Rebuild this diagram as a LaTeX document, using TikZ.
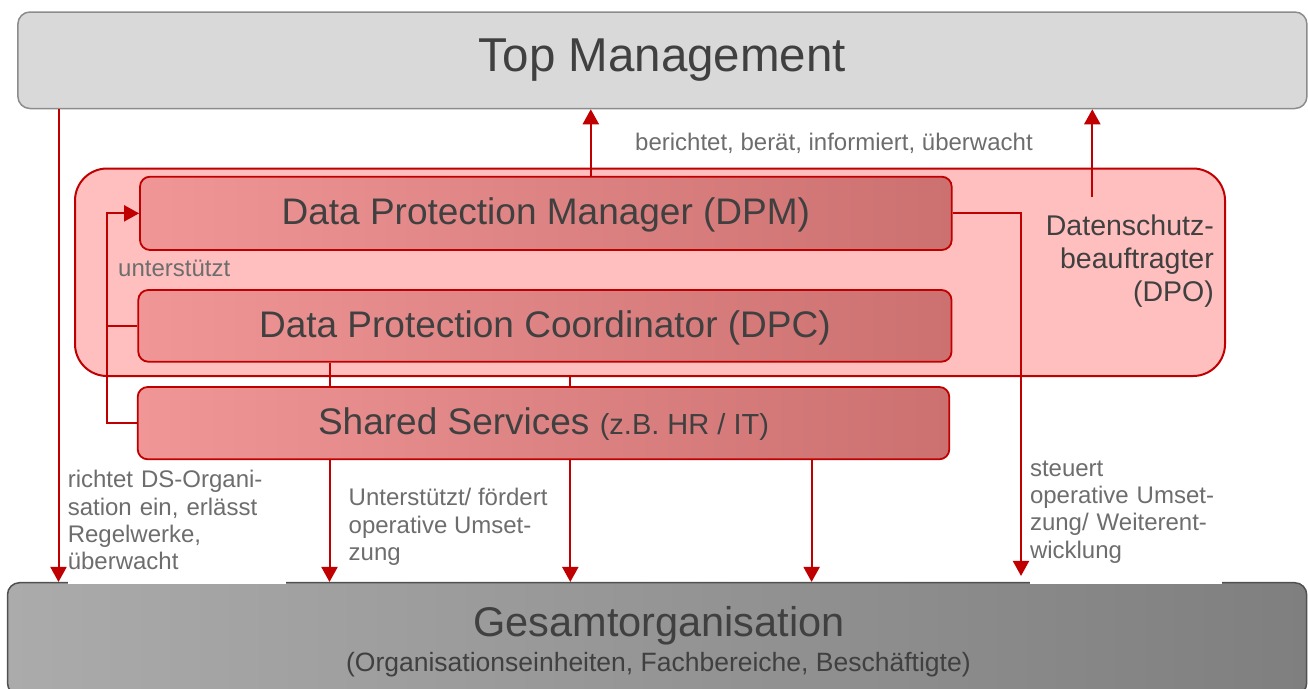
\documentclass[tikz,border=0pt]{standalone}
\usepackage{fontspec}
\setmainfont{Liberation Sans}
\usetikzlibrary{arrows.meta,calc}
\definecolor{dsred}{HTML}{C00000}
\definecolor{dpofill}{HTML}{FFBFBF}
\definecolor{boxL}{HTML}{F09696}
\definecolor{boxR}{HTML}{CC7070}
\definecolor{txt}{HTML}{404040}
\definecolor{lbl}{HTML}{6D6D6D}
\definecolor{topfill}{HTML}{D9D9D9}
\definecolor{topdraw}{HTML}{8C8C8C}
\definecolor{gesL}{HTML}{ABABAB}
\definecolor{gesR}{HTML}{7F7F7F}
\definecolor{gesdraw}{HTML}{505050}
\begin{document}
\begin{tikzpicture}[x=1pt,y=-1pt,
  conn/.style={draw=dsred, line width=2pt},
  arr/.style={conn, -{Triangle[length=15pt,width=16pt]}},
  redbox/.style={draw=dsred, line width=1.8pt, rounded corners=10pt, left color=boxL, right color=boxR,
     text=txt, font=\fontsize{37}{37}\selectfont, text height=23pt, text depth=0pt, inner sep=0pt},
  lbltext/.style={text=lbl, font=\fontsize{24}{27.3}\selectfont, inner sep=0pt, align=left},
]
\useasboundingbox (0,0) rectangle (1308,688);

% Top management
\node[draw=topdraw, line width=1.5pt, fill=topfill, rounded corners=12pt, minimum width=1289pt,
  minimum height=96.5pt, inner sep=0pt, text=txt, font=\fontsize{47.5}{47.5}\selectfont,
  text height=23.4pt, text depth=0pt] (top) at (662.4,60.25) {Top Management};

% DPO container
\node[draw=dsred, line width=2pt, fill=dpofill, rounded corners=32pt, minimum width=1150pt,
  minimum height=207.5pt, inner sep=0pt] (dpo) at (650,272.25) {};
\node[anchor=north east, text=txt, font=\fontsize{28.5}{33}\selectfont, align=right, inner sep=0pt]
  (dpolbl) at (1214,212.6) {\strut Datenschutz-\\beauftragter\\(DPO)};

% inner boxes
\node[redbox, minimum width=811.7pt, minimum height=73.3pt] (dpm) at (545.85,213.35) {Data Protection Manager (DPM)};
\node[redbox, minimum width=813.2pt, minimum height=71.7pt] (dpc) at (544.9,325.85) {Data Protection Coordinator (DPC)};
\node[redbox, minimum width=811.6pt, minimum height=72.3pt] (ss) at (543.5,423.15) {Shared Services {\fontsize{29}{29}\selectfont (z.B. HR / IT)}};

% Gesamtorganisation
\node[draw=gesdraw, line width=1.5pt, left color=gesL, right color=gesR, rounded corners=12pt,
  minimum width=1299.2pt, minimum height=112.3pt, inner sep=0pt] (ges) at (657.1,638.85) {};
\node[anchor=base, text=txt, font=\fontsize{41.5}{41.5}\selectfont, inner sep=0pt] (gesT) at (659,636.7) {Gesamtorganisation};
\node[anchor=base, text=txt, font=\fontsize{26.5}{26.5}\selectfont, inner sep=0pt] (gesS) at (658.4,671.7) {(Organisationseinheiten, Fachbereiche, Beschäftigte)};

% labels
\node[lbltext, anchor=base west] (lblTop) at (635,150.7) {berichtet, berät, informiert, überwacht};
\node[lbltext, anchor=base west] (lblU) at (118,276.7) {unterstützt};
\node[lbltext, anchor=north west, text width=218pt, fill=white] (lblL) at (67.6,468.6)
  {\strut richtet DS-Organi-\\sation ein, erlässt\\Regelwerke,\\überwacht\rule[-13.7pt]{0pt}{13.7pt}};
\node[lbltext, anchor=north west] (lblM) at (348.5,486.6) {\strut Unterstützt/ fördert\\operative Umset-\\zung};
\node[lbltext, anchor=north west, text width=191.7pt, fill=white] (lblR) at (1029.8,456.9)
  {\strut steuert\\operative Umset-\\zung/ Weiterent-\\wicklung\rule[-25.4pt]{0pt}{25.4pt}};

% helper coordinates
\coordinate (xL) at (58.5,0);
\coordinate (xA) at (590.8,0);
\coordinate (dpoA) at (1092.3,196.7);
\coordinate (xR) at (1021,0);
\coordinate (xU) at (107.3,0);
\coordinate (x1) at (329.5,0);
\coordinate (x2) at (570.3,0);
\coordinate (x3) at (811.6,0);

% connectors
\draw[arr] (top.south -| xL) -- (ges.north -| xL);
\draw[arr] (dpm.north -| xA) -- (top.south -| xA);
\draw[arr] (dpoA) -- (top.south -| dpoA);
\draw[arr] (dpm.east) -| ([yshift=6pt]ges.north -| xR);
\draw[conn] (dpc.west) -- (dpc.west -| xU);
\draw[arr] (ss.west) -| (xU |- dpm.west) -- (dpm.west);
\draw[conn] (dpc.south -| x1) -- (ss.north -| x1);
\draw[conn] (dpo.south -| x2) -- (ss.north -| x2);
\draw[arr] (ss.south -| x1) -- (ges.north -| x1);
\draw[arr] (ss.south -| x2) -- (ges.north -| x2);
\draw[arr] (ss.south -| x3) -- (ges.north -| x3);
\end{tikzpicture}
\end{document}
